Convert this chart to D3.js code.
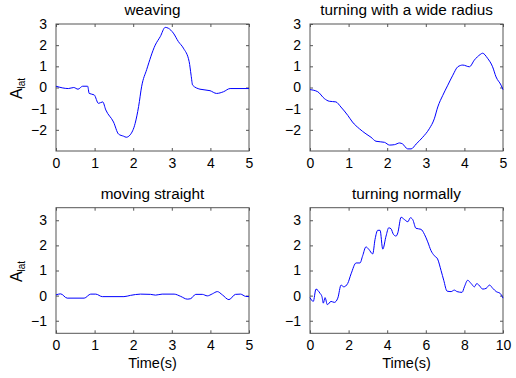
<!DOCTYPE html>
<html>
<head>
<meta charset="utf-8">
<script src="https://cdn.jsdelivr.net/npm/d3@7"></script>
<style>
  body { margin: 0; background: #fff; }
  text { font-family: "Liberation Sans", Arial, sans-serif; fill: #000; }
</style>
</head>
<body>
<svg id="chart" width="516" height="378"></svg>
<script>
// weaving, 0-5 s
const weavingT = [0, 0.32, 0.46, 0.57, 0.69, 0.82, 0.86, 0.99, 1.10, 1.21, 1.29, 1.49, 1.62, 1.75, 1.82, 1.92, 2.05, 2.14, 2.22, 2.35, 2.57, 2.70, 2.83, 2.91, 3.04, 3.17, 3.30, 3.45, 3.50, 3.54, 3.73, 3.99, 4.16, 4.34, 4.51, 5.0];
const weavingA = [0.06, -0.05, 0, -0.08, 0.06, 0.06, -0.28, -0.35, -0.75, -0.68, -1.06, -1.63, -2.2, -2.3, -2.35, -2.24, -1.7, -0.9, 0.06, 0.85, 2.0, 2.4, 2.84, 2.8, 2.57, 2.17, 1.86, 1.22, 0.58, 0.11, -0.08, -0.15, -0.28, -0.2, -0.05, -0.05];

// turning with a wide radius, 0-5 s
const wideT = [0, 0.2, 0.37, 0.50, 0.67, 0.80, 0.98, 1.10, 1.28, 1.45, 1.58, 1.71, 1.93, 2.06, 2.19, 2.32, 2.40, 2.53, 2.62, 2.75, 2.92, 3.09, 3.22, 3.31, 3.44, 3.57, 3.70, 3.83, 3.96, 4.13, 4.26, 4.41, 4.47, 4.60, 4.73, 4.82, 4.95, 5.0];
const wideA = [-0.1, -0.2, -0.52, -0.65, -0.68, -0.92, -1.32, -1.63, -1.95, -2.19, -2.35, -2.54, -2.59, -2.72, -2.7, -2.62, -2.67, -2.9, -2.9, -2.67, -2.35, -1.95, -1.48, -0.92, -0.37, 0.11, 0.58, 0.98, 1.06, 0.98, 1.3, 1.56, 1.62, 1.38, 0.98, 0.5, 0.11, -0.1];

// moving straight, 0-5 s
const straightT = [0, 0.12, 0.29, 0.73, 0.90, 1.03, 1.2, 1.76, 1.93, 2.19, 2.45, 2.58, 2.75, 3.06, 3.23, 3.40, 3.49, 3.62, 3.79, 3.92, 4.05, 4.18, 4.31, 4.48, 4.65, 4.78, 4.91, 5.0];
const straightA = [0.03, 0.07, -0.1, -0.1, 0.06, 0.06, -0.04, -0.04, 0.01, 0.06, 0.05, 0.02, 0.06, 0.06, -0.03, -0.14, -0.12, 0.05, 0.05, -0.01, 0.07, 0.16, 0.03, -0.16, 0.05, 0.06, -0.03, -0.04];

// turning normally, 0-10 s
const normalT = [0, 0.17, 0.31, 0.52, 0.62, 0.69, 0.78, 0.9, 1.09, 1.26, 1.44, 1.61, 1.75, 1.95, 2.13, 2.39, 2.59, 2.73, 2.90, 3.04, 3.25, 3.37, 3.51, 3.63, 3.77, 3.94, 4.08, 4.2, 4.32, 4.46, 4.55, 4.72, 4.89, 5.07, 5.2, 5.32, 5.49, 5.75, 5.93, 6.1, 6.27, 6.44, 6.61, 6.79, 6.93, 7.1, 7.31, 7.48, 7.62, 7.88, 8.0, 8.17, 8.35, 8.52, 8.64, 8.75, 8.95, 9.13, 9.3, 9.47, 9.65, 9.85, 10.0];
const normalA = [-0.08, -0.23, 0.26, 0.09, -0.04, -0.30, -0.08, -0.36, -0.23, -0.27, -0.1, 0.42, 0.35, 0.48, 0.87, 1.3, 1.3, 1.59, 1.94, 1.85, 1.66, 2.24, 2.6, 2.6, 1.85, 2.37, 2.7, 2.66, 2.44, 2.37, 2.5, 3.12, 3.03, 2.94, 3.1, 3.03, 2.68, 2.64, 2.44, 2.14, 1.79, 1.59, 1.46, 1.0, 0.61, 0.18, 0.16, 0.22, 0.16, 0.13, 0.35, 0.61, 0.48, 0.35, 0.48, 0.42, 0.26, 0.29, 0.42, 0.29, 0.16, 0.09, -0.1];

const titles = ["weaving", "turning with a wide radius", "moving straight", "turning normally"];
const topYTicks = [-2, -1, 0, 1, 2, 3];
const bottomYTicks = [-1, 0, 1, 2, 3];
const xTicks5 = [0, 1, 2, 3, 4, 5];
const xTicks10 = [0, 2, 4, 6, 8, 10];

const svg = d3.select("#chart");

const panels = [
    { title: titles[0], t: weavingT, a: weavingA, x0: 56, x1: 249, y0: 24, y1: 151, xDom: [0, 5], yDom: [-3, 3], xTicks: xTicks5, yTicks: topYTicks, ylabel: true, xlabel: false },
    { title: titles[1], t: wideT, a: wideA, x0: 310, x1: 503, y0: 24, y1: 151, xDom: [0, 5], yDom: [-3, 3], xTicks: xTicks5, yTicks: topYTicks, ylabel: false, xlabel: false },
    { title: titles[2], t: straightT, a: straightA, x0: 56, x1: 249, y0: 207.7, y1: 333.3, xDom: [0, 5], yDom: [-1.5, 3.5], xTicks: xTicks5, yTicks: bottomYTicks, ylabel: true, xlabel: true },
    { title: titles[3], t: normalT, a: normalA, x0: 310, x1: 503, y0: 207.7, y1: 333.3, xDom: [0, 10], yDom: [-1.5, 3.5], xTicks: xTicks10, yTicks: bottomYTicks, ylabel: false, xlabel: true }
];

function drawPanel(p) {
    let x = d3.scaleLinear().domain(p.xDom).range([p.x0, p.x1]);
    let y = d3.scaleLinear().domain(p.yDom).range([p.y1, p.y0]);
    let g = svg.append("g");
    let tickLen = 3;

    // inward ticks on all four sides (matlab box)
    let axStyle = sel => {
        sel.select(".domain").remove();
        sel.selectAll(".tick line").attr("stroke", "#555").attr("stroke-width", 1);
        sel.selectAll("text").style("font-size", "14px").attr("fill", "#000");
    };
    g.append("g").attr("transform", "translate(0," + p.y1 + ")")
        .call(d3.axisBottom(x).tickValues(p.xTicks).tickSizeInner(-tickLen).tickPadding(7).tickFormat(d3.format("d")))
        .call(axStyle);
    g.append("g").attr("transform", "translate(0," + p.y0 + ")")
        .call(d3.axisTop(x).tickValues(p.xTicks).tickSizeInner(-tickLen).tickFormat(""))
        .call(axStyle);
    g.append("g").attr("transform", "translate(" + p.x0 + ",0)")
        .call(d3.axisLeft(y).tickValues(p.yTicks).tickSizeInner(-tickLen).tickPadding(9).tickFormat(d3.format("d")))
        .call(axStyle);
    g.append("g").attr("transform", "translate(" + p.x1 + ",0)")
        .call(d3.axisRight(y).tickValues(p.yTicks).tickSizeInner(-tickLen).tickFormat(""))
        .call(axStyle);

    g.append("rect")
        .attr("x", p.x0).attr("y", p.y0)
        .attr("width", p.x1 - p.x0).attr("height", p.y1 - p.y0)
        .attr("fill", "none").attr("stroke", "#555").attr("stroke-width", 1);

    let line = d3.line()
        .x((d, i) => x(p.t[i]))
        .y(d => y(d))
        .curve(d3.curveMonotoneX);
    g.append("path")
        .datum(p.a)
        .attr("d", line)
        .attr("fill", "none")
        .attr("stroke", "#0000ff")
        .attr("stroke-width", 1);

    g.append("text")
        .attr("x", (p.x0 + p.x1) / 2)
        .attr("y", p.y0 - 9)
        .attr("text-anchor", "middle")
        .style("font-size", "15.3px")
        .text(p.title);

    if (p.ylabel) {
        let t = g.append("text")
            .attr("transform", "translate(22," + ((p.y0 + p.y1) / 2 + 1) + ") rotate(-90)")
            .attr("text-anchor", "middle")
            .style("font-size", "16px");
        t.append("tspan").text("A");
        t.append("tspan").attr("dy", 3).style("font-size", "10px").text("lat");
    }
    if (p.xlabel) {
        g.append("text")
            .attr("x", (p.x0 + p.x1) / 2)
            .attr("y", 368)
            .attr("text-anchor", "middle")
            .style("font-size", "14.5px")
            .text("Time(s)");
    }
}

panels.forEach(drawPanel);
</script>
</body>
</html>
